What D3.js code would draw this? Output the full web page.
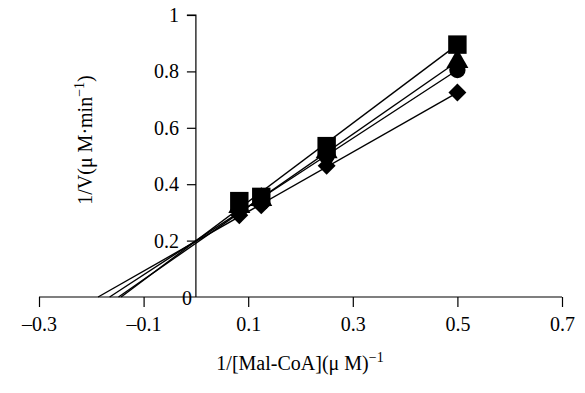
<!DOCTYPE html>
<html>
<head>
<meta charset="utf-8">
<script src="https://cdn.jsdelivr.net/npm/d3@7"></script>
<style>
  html, body { margin: 0; padding: 0; background: #fff; }
  svg { display: block; }
  svg text { font-family: "Liberation Serif", "Times New Roman", "DejaVu Serif", serif !important; fill: #000; }
</style>
</head>
<body>
<svg id="chart" width="585" height="393"></svg>
<script>
// ---- data ----
const xValues = [0.083, 0.125, 0.25, 0.5];
const squareValues = [0.34, 0.355, 0.535, 0.895];
const triangleValues = [0.32, 0.345, 0.515, 0.835];
const circleValues = [0.31, 0.335, 0.50, 0.805];
const diamondValues = [0.29, 0.325, 0.465, 0.725];
// trend lines: x-intercept (y = 0) and value at x = 0.5
const seriesNames = ["square", "triangle", "circle", "diamond"];
const trendXIntercepts = [-0.143, -0.148, -0.165, -0.187];
const trendEndX = 0.5;
const trendEndValues = [0.895, 0.835, 0.805, 0.725];
const xTicks = [-0.3, -0.1, 0.1, 0.3, 0.5, 0.7];
const xTickLabels = ["\u20130.3", "\u20130.1", "0.1", "0.3", "0.5", "0.7"];
const yTicks = [0, 0.2, 0.4, 0.6, 0.8, 1];
const yTickLabels = ["0", "0.2", "0.4", "0.6", "0.8", "1"];

const seriesValues = [squareValues, triangleValues, circleValues, diamondValues];

const svg = d3.select("#chart");
const x = d3.scaleLinear().domain([-0.3, 0.7]).range([39, 562]);
const y = d3.scaleLinear().domain([0, 1]).range([297, 15]);

// x axis
const xAxis = d3.axisBottom(x).tickValues(xTicks)
  .tickFormat((d, i) => xTickLabels[i]).tickSize(10).tickPadding(10);
const gx = svg.append("g").attr("transform", `translate(0,${y(0)})`).call(xAxis);
gx.attr("font-family", null);
gx.select(".domain").attr("stroke", "#000").attr("stroke-width", 1.2).attr("d", `M${x(-0.3)},0H${x(0.7)}`);
gx.selectAll(".tick line").attr("stroke", "#000").attr("stroke-width", 1.2);
gx.selectAll(".tick text").attr("font-size", 20);

// y axis
const yAxis = d3.axisLeft(y).tickValues(yTicks)
  .tickFormat((d, i) => yTickLabels[i]).tickSize(9).tickPadding(8);
const gy = svg.append("g").attr("transform", `translate(${x(0)},0)`).call(yAxis);
gy.attr("font-family", null);
gy.select(".domain").attr("stroke", "#000").attr("stroke-width", 1.2).attr("d", `M-9,${y(1)}H0V${y(0)}`);
gy.selectAll(".tick line").attr("stroke", "#000").attr("stroke-width", 1.2);
gy.selectAll(".tick text").attr("font-size", 20);
gy.selectAll(".tick").filter(d => d === 0).select("text").attr("x", -4).attr("dy", "0.36em");
gy.selectAll(".tick").filter(d => d === 0).select("line").remove();

// trend lines
const lineG = svg.append("g");
seriesNames.forEach((name, i) => {
  lineG.append("line")
    .attr("x1", x(trendXIntercepts[i])).attr("y1", y(0))
    .attr("x2", x(trendEndX)).attr("y2", y(trendEndValues[i]))
    .attr("stroke", "#000").attr("stroke-width", 1.4);
});

// markers
const symbolTypes = [d3.symbolSquare, d3.symbolTriangle, d3.symbolCircle, d3.symbolSquare];
const symbolSizes = [340, 210, 210, 160];
const symbolRot = [0, 0, 0, 45];
const markG = svg.append("g");
// draw diamond first, then circle, triangle, square on top
[3, 2, 1, 0].forEach(i => {
  markG.selectAll(null).data(xValues.map((xv, j) => [xv, seriesValues[i][j]]))
    .enter().append("path")
    .attr("d", d3.symbol().type(symbolTypes[i]).size(symbolSizes[i]))
    .attr("transform", d => `translate(${x(d[0])},${y(d[1])}) rotate(${symbolRot[i]})`)
    .attr("fill", "#000");
});

// axis titles
svg.append("text")
  .attr("x", 300).attr("y", 370)
  .attr("text-anchor", "middle").attr("font-size", 20)
  .html('1/[Mal-CoA](μ M)<tspan dy="-8" font-size="14">\u22121</tspan>');

svg.append("text")
  .attr("transform", "translate(92,140) rotate(-90)")
  .attr("text-anchor", "middle").attr("font-size", 20)
  .html('1/V(μ M·min<tspan dy="-8" font-size="14">\u22121</tspan><tspan dy="8">)</tspan>');
</script>
</body>
</html>
